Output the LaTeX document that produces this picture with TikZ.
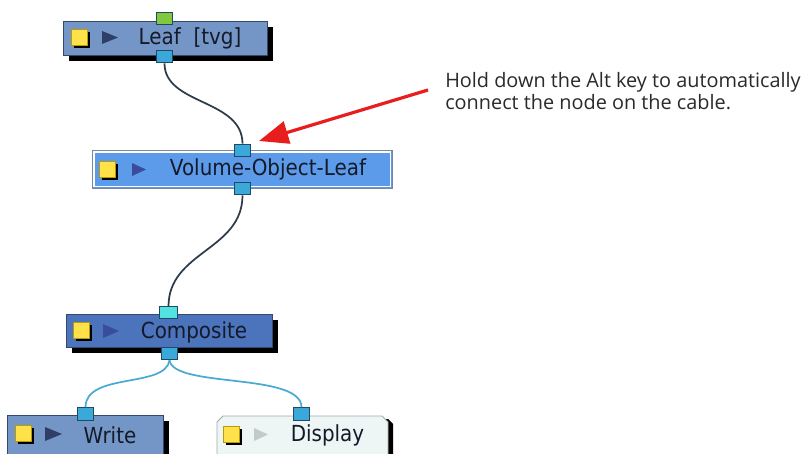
\documentclass[tikz,border=0pt]{standalone}
\usepackage{fontspec}
\newfontfamily\nodefont[FakeStretch=0.9]{DejaVu Sans}
\newfontfamily\notefont{Open Sans}
\usetikzlibrary{shadows,arrows.meta}
\definecolor{leafblue}{HTML}{7396C6}
\definecolor{volblue}{HTML}{5C9BEA}
\definecolor{volline}{HTML}{7A8798}
\definecolor{compblue}{HTML}{4B74BD}
\definecolor{dispfill}{HTML}{EEF5F5}
\definecolor{displine}{HTML}{A3ABAB}
\definecolor{boxline}{HTML}{34496A}
\definecolor{portblue}{HTML}{3AA8D8}
\definecolor{portline}{HTML}{1E4A66}
\definecolor{portcyan}{HTML}{52E2E0}
\definecolor{portgreen}{HTML}{82C83E}
\definecolor{iconyellow}{HTML}{FFE24A}
\definecolor{iconline}{HTML}{B89A10}
\definecolor{playdark}{HTML}{2E3E66}
\definecolor{playvol}{HTML}{3A4C9C}
\definecolor{playlight}{HTML}{C3CACA}
\definecolor{cabledark}{HTML}{2E3B48}
\definecolor{cablelight}{HTML}{4AAAD4}
\definecolor{arrowred}{HTML}{E81E1E}
\definecolor{notetext}{HTML}{2A2A2A}
\definecolor{labeltext}{HTML}{141A28}
\begin{document}
\begin{tikzpicture}[x=0.75pt,y=-0.75pt,
  nodebox/.style={draw=boxline, line width=0.7pt, inner sep=0pt, anchor=north west,
    drop shadow={shadow xshift=4pt, shadow yshift=-4.5pt, fill=black, opacity=1}},
  port/.style={draw=portline, line width=0.7pt, fill=portblue, minimum width=12.5pt,
    minimum height=9.5pt, inner sep=0pt},
  icon/.style={draw=iconline, fill=iconyellow, minimum size=12pt, inner sep=0pt,
    line width=0.6pt, drop shadow={shadow xshift=2pt, shadow yshift=-2pt, fill=black, opacity=1}},
  lbl/.style={inner sep=0pt, text=labeltext, font=\nodefont\fontsize{16.6}{18}\selectfont},
  cable/.style={line width=1.3pt, draw=cabledark},
  cablelt/.style={line width=1.3pt, draw=cablelight},
  redarrow/.style={draw=arrowred, line width=2.4pt, -{Triangle[length=22pt,width=17pt]}}]
\useasboundingbox (0,0) rectangle (806,453);
\fill[white] (0,0) rectangle (806,453);

% Leaf [tvg]
\node[nodebox, fill=leafblue, minimum width=153pt, minimum height=25.5pt] (leaf) at (63,21) {};
\node[icon] (leaficon) at (79,37) {};
\fill[playdark] (102,31) -- (118,37.5) -- (102,44) -- cycle;
\node[lbl] (leaflbl) at (190,38) {Leaf\ \ [tvg]};
\node[port, fill=portgreen] (leafin) at (164.5,18.5) {};
\node[port] (leafout) at (164.5,56.5) {};

% Volume-Object-Leaf
\node[draw=volline, line width=0.7pt, fill=volblue,
  inner sep=0pt, anchor=north west, minimum width=225pt, minimum height=28.5pt] (vol) at (92,150) {};
\draw[white, line width=1pt] ([xshift=1.6pt,yshift=-1.6pt]vol.north west) rectangle ([xshift=-1.6pt,yshift=1.6pt]vol.south east);
\node[icon] (volicon) at (107.5,169.5) {};
\fill[playvol] (132,163) -- (146,169.5) -- (132,176) -- cycle;
\node[lbl] (vollbl) at (268,169) {Volume-Object-Leaf};
\node[port] (volin) at (242.5,150.5) {};
\node[port] (volout) at (242.5,188.5) {};

% Composite
\node[nodebox, fill=compblue, minimum width=154.5pt, minimum height=24.75pt] (comp) at (66,314) {};
\node[icon] (compicon) at (81.5,330.5) {};
\fill[playvol] (103,324) -- (119,331) -- (103,338) -- cycle;
\node[lbl] (complbl) at (194,332) {Composite};
\node[port, fill=portcyan, minimum width=14pt, minimum height=8.5pt] (compin) at (168.5,312.5) {};
\node[port] (compout) at (169.5,353.5) {};

% Write
\node[nodebox, fill=leafblue, minimum width=117pt, minimum height=34pt] (write) at (7,415) {};
\node[icon] (writeicon) at (23.5,433.5) {};
\fill[playdark] (45,427) -- (62,434) -- (45,441) -- cycle;
\node[lbl] (writelbl) at (110,435) {Write};
\node[port] (writein) at (85.5,414) {};

% Display (bevelled top corners)
\fill[black] (222,424) -- (227,419) -- (388,419) -- (393,424) -- (393,460) -- (222,460) -- cycle;
\fill[dispfill, draw=displine, line width=0.7pt] (217,460) -- (217,422) -- (223,416) -- (382,416) -- (388,422) -- (388,460);
\node[inner sep=0pt, minimum width=128pt, minimum height=33pt, anchor=north west] (disp) at (217,416) {};
\node[icon] (dispicon) at (231.5,434.5) {};
\fill[playlight] (254,428) -- (268,434.5) -- (254,441) -- cycle;
\node[lbl] (displbl) at (327.5,435) {Display};
\node[port] (dispin) at (301.5,414) {};

% cables
\draw[cable] (leafout.south) .. controls +(0,42) and +(0,-45) .. (volin.north);
\draw[cable] (volout.south) .. controls +(0,55) and +(0,-55) .. (compin.north);
\draw[cablelt] (compout.south) .. controls +(-4,28) and +(0,-35) .. (writein.north);
\draw[cablelt] (compout.south) .. controls +(4,28) and +(0,-35) .. (dispin.north);

% annotation
\node[anchor=north west, align=left, inner sep=0pt, text=notetext,
  font=\notefont\fontsize{14.9}{16.5}\selectfont] (note) at (445,72)
  {Hold down the Alt key to automatically\\connect the node on the cable.};
\coordinate (arrowtail) at (428,90);
\coordinate (arrowtip) at (259,141);
\draw[redarrow] (arrowtail) -- (arrowtip);
\end{tikzpicture}
\end{document}
